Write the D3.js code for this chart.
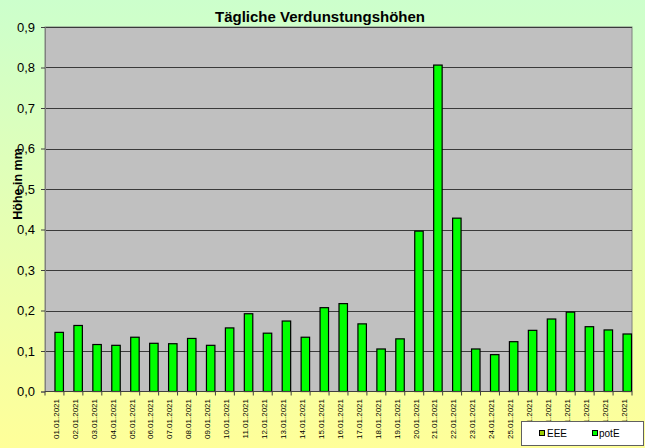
<!DOCTYPE html>
<html><head><meta charset="utf-8">
<script src="https://cdn.jsdelivr.net/npm/d3@7"></script>
<style>html,body{margin:0;padding:0;overflow:hidden}svg{display:block}</style>
</head><body>
<script>
const dates = ["01.01.2021","02.01.2021","03.01.2021","04.01.2021","05.01.2021","06.01.2021","07.01.2021","08.01.2021","09.01.2021","10.01.2021","11.01.2021","12.01.2021","13.01.2021","14.01.2021","15.01.2021","16.01.2021","17.01.2021","18.01.2021","19.01.2021","20.01.2021","21.01.2021","22.01.2021","23.01.2021","24.01.2021","25.01.2021","26.01.2021","27.01.2021","28.01.2021","29.01.2021","30.01.2021","31.01.2021"];
const seriesNames = ["EEE","potE"];
const eeeValues = [null,null,null,null,null,null,null,null,null,null,null,null,null,null,null,null,null,null,null,null,null,null,null,null,null,null,null,null,null,null,null];
const potEValues = [0.146,0.163,0.116,0.114,0.134,0.119,0.118,0.131,0.114,0.157,0.192,0.144,0.174,0.134,0.207,0.217,0.167,0.105,0.130,0.396,0.806,0.428,0.105,0.091,0.123,0.151,0.179,0.196,0.160,0.152,0.142];
const yTicks = [0,0.1,0.2,0.3,0.4,0.5,0.6,0.7,0.8,0.9];
const title = "Tägliche Verdunstungshöhen";
const yLabel = "Höhe in mm";

const W=645,H=448;
const svg=d3.select("body").append("svg").attr("width",W).attr("height",H)
  .style("font-family","'Liberation Sans', Arial, sans-serif");
const defs=svg.append("defs");
const g=defs.append("linearGradient").attr("id","bg").attr("x1",0).attr("y1",0).attr("x2",0).attr("y2",1);
g.append("stop").attr("offset","0%").attr("stop-color","#ccffcc");
g.append("stop").attr("offset","100%").attr("stop-color","#ffff99");
svg.append("rect").attr("width",W).attr("height",H).attr("fill","url(#bg)");

const L=45,R=632,T=27,B=391.5;
const x=d3.scaleBand().domain(dates).range([L,R]).padding(0);
const xs=d3.scaleBand().domain(seriesNames).range([0,x.bandwidth()]).padding(0);
const y=d3.scaleLinear().domain([0,0.9]).range([B,T]);

svg.append("rect").attr("x",L).attr("y",T).attr("width",R-L).attr("height",B-T)
  .attr("fill","#c0c0c0").attr("stroke","#808080").attr("stroke-width",1);

svg.append("g").selectAll("line").data(yTicks.filter(d=>d>0)).join("line")
  .attr("x1",L).attr("x2",R).attr("y1",d=>Math.round(y(d))+0.5).attr("y2",d=>Math.round(y(d))+0.5)
  .attr("stroke","#3a3a3a").attr("stroke-width",1);

const yAxis=svg.append("g").attr("transform",`translate(${L},0)`)
  .call(d3.axisLeft(y).tickValues(yTicks).tickSize(4).tickPadding(6)
    .tickFormat(d=>d3.format(".1f")(d).replace(".",",")));
yAxis.select(".domain").attr("stroke","#808080");
yAxis.selectAll(".tick line").attr("stroke","#404040");
yAxis.selectAll("text").attr("font-size",13).attr("fill","#000")
  .style("font-family","'Liberation Sans', Arial, sans-serif");

const data=[{name:"EEE",vals:eeeValues,color:"#99cc00"},{name:"potE",vals:potEValues,color:"#00ff00"}];
data.forEach(s=>{
  svg.append("g").selectAll("rect").data(dates.map((d,i)=>({d,v:s.vals[i]})).filter(o=>o.v!=null)).join("rect")
    .attr("x",o=>x(o.d)+xs(s.name)+0.5)
    .attr("width",xs.bandwidth()-1)
    .attr("y",o=>y(o.v))
    .attr("height",o=>B-y(o.v))
    .attr("fill",s.color).attr("stroke","#000").attr("stroke-width",1.2);
});

// x axis line and ticks
svg.append("line").attr("x1",L).attr("x2",R).attr("y1",B).attr("y2",B).attr("stroke","#404040");
svg.append("g").selectAll("line").data(dates.concat(["end"])).join("line")
  .attr("x1",(d,i)=>L+i*x.bandwidth()).attr("x2",(d,i)=>L+i*x.bandwidth())
  .attr("y1",B).attr("y2",B+4).attr("stroke","#404040");
svg.append("g").selectAll("text").data(dates).join("text")
  .attr("transform",d=>`translate(${x(d)+x.bandwidth()/2+1.5},399) rotate(-90)`)
  .attr("text-anchor","end").attr("dy","0.35em").attr("font-size",8).attr("fill","#000")
  .text(d=>d);

svg.append("text").attr("x",320).attr("y",21.5).attr("text-anchor","middle")
  .attr("font-size",15).attr("font-weight","bold").text(title);
svg.append("text").attr("transform","translate(21.5,184) rotate(-90)").attr("text-anchor","middle")
  .attr("font-size",12.5).attr("font-weight","bold").text(yLabel);

// legend
const lg=svg.append("g");
lg.append("rect").attr("x",521.5).attr("y",421.5).attr("width",122).attr("height",24)
  .attr("fill","#fff").attr("stroke","#606060");
const items=[{n:"EEE",c:"#99cc00",mx:539.5,tx:547},{n:"potE",c:"#00ff00",mx:592.5,tx:599}];
items.forEach(it=>{
  lg.append("rect").attr("x",it.mx).attr("y",430.5).attr("width",5).attr("height",5)
    .attr("fill",it.c).attr("stroke","#000");
  lg.append("text").attr("x",it.tx).attr("y",437).attr("font-size",10).text(it.n);
});
</script>
</body></html>
